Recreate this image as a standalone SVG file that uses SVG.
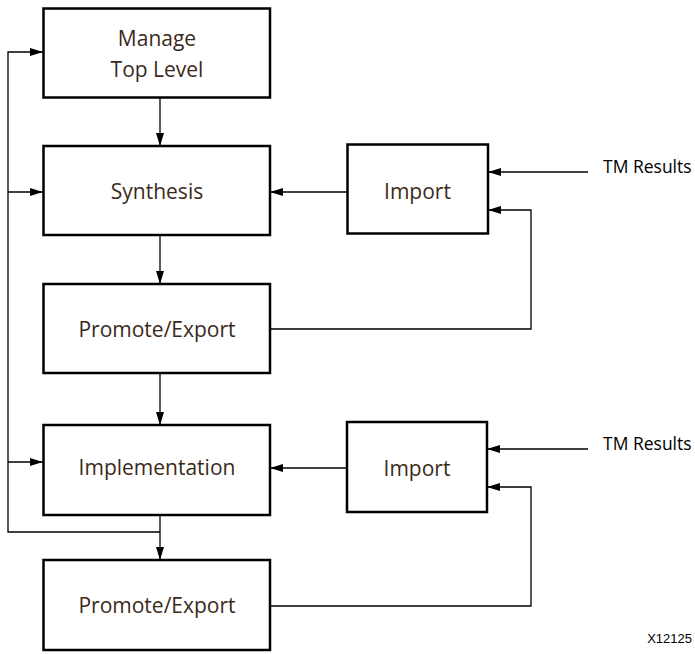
<svg xmlns="http://www.w3.org/2000/svg" width="695" height="654" viewBox="0 0 695 654">
<defs>
<marker id="ah" markerWidth="13" markerHeight="8" refX="13" refY="4" orient="auto" markerUnits="userSpaceOnUse">
<path d="M0,0 L13,4 L0,8 z" fill="#000"/>
</marker>
</defs>
<style>
.box{fill:#fff;stroke:#000;stroke-width:2.5}
.lbl{font-family:"Open Sans",sans-serif;font-size:21px;fill:#3b2a1a;text-anchor:middle}
.ext{font-family:"Open Sans",sans-serif;font-size:17.5px;fill:#000}
.conn{fill:none;stroke:#000;stroke-width:1.3}
.arr{marker-end:url(#ah)}
</style>
<rect width="695" height="654" fill="#fff"/>
<g id="connectors">
<path class="conn arr" d="M160,97 V146"/>
<path class="conn arr" d="M160,235 V284"/>
<path class="conn arr" d="M160,373 V425"/>
<path class="conn arr" d="M160,515 V560"/>
<path class="conn arr" d="M160,532 H8 V52 H43"/>
<path class="conn arr" d="M8,192 H43"/>
<path class="conn arr" d="M8,462 H43"/>
<path class="conn arr" d="M347,192 H270"/>
<path class="conn arr" d="M588,172 H488"/>
<path class="conn arr" d="M270,329 H531 V210 H488"/>
<path class="conn arr" d="M347,468 H270"/>
<path class="conn arr" d="M588,449 H487"/>
<path class="conn arr" d="M270,606 H531 V487 H487"/>
</g>
<g id="manage">
<rect class="box" x="43.5" y="8.5" width="226.5" height="89"/>
<text class="lbl" x="157" y="46">Manage</text>
<text class="lbl" x="157" y="77">Top Level</text>
</g>
<g id="synthesis">
<rect class="box" x="43.5" y="146" width="226.5" height="89"/>
<text class="lbl" x="157" y="199">Synthesis</text>
</g>
<g id="promote1">
<rect class="box" x="43.5" y="284" width="226.5" height="89"/>
<text class="lbl" x="157" y="337">Promote/Export</text>
</g>
<g id="implementation">
<rect class="box" x="43.5" y="425" width="226.5" height="90"/>
<text class="lbl" x="157" y="475">Implementation</text>
</g>
<g id="promote2">
<rect class="box" x="43.5" y="560" width="226.5" height="90"/>
<text class="lbl" x="157" y="613">Promote/Export</text>
</g>
<g id="import1">
<rect class="box" x="347.5" y="144.5" width="140.5" height="89"/>
<text class="lbl" x="417.5" y="199">Import</text>
</g>
<g id="import2">
<rect class="box" x="347" y="422" width="140" height="90"/>
<text class="lbl" x="417" y="476">Import</text>
</g>
<g id="tm1"><text class="ext" x="603" y="173">TM Results</text></g>
<g id="tm2"><text class="ext" x="603" y="450">TM Results</text></g>
<text x="692" y="643" font-family="Liberation Sans, Arial, sans-serif" font-size="13" text-anchor="end" fill="#000">X12125</text>
</svg>
